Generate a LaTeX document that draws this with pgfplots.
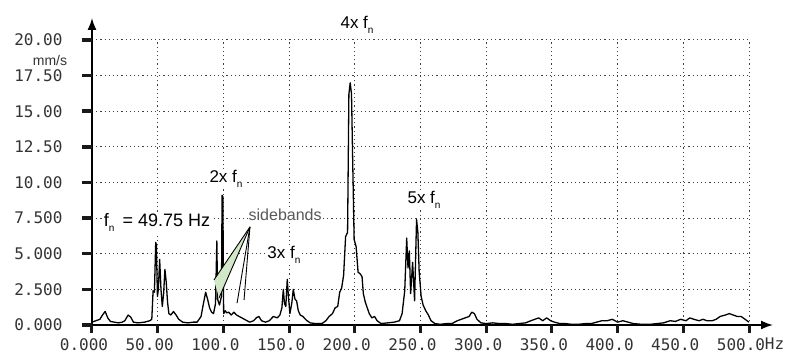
\documentclass[border=0pt]{standalone}
\usepackage{fontspec}
\setmainfont{Liberation Sans}
\newfontfamily\tickfont{DejaVu Sans Mono}
\usepackage{pgfplots}
\pgfplotsset{compat=1.18}
\usetikzlibrary{arrows.meta}
\definecolor{wedge}{RGB}{208,232,200}
\definecolor{tickcol}{RGB}{25,25,25}
\newcommand\sub[1]{\raisebox{-0.55ex}{\fontsize{10}{10}\selectfont #1}}
\begin{document}
\begin{tikzpicture}
\begin{axis}[
  scale only axis, width=657pt, height=285pt,
  xmin=0, xmax=500, ymin=0, ymax=20,
  enlargelimits=false,
  axis lines=left,
  axis line style={line width=1.6pt, black},
  x axis line style={-{Latex[length=12pt,width=9pt]}, shorten >=-24pt},
  y axis line style={-{Latex[length=12pt,width=9pt]}, shorten >=-22pt},
  xtick={0,50,...,500}, ytick={0,2.5,...,20},
  xticklabels={0.000,50.00,100.0,150.0,200.0,250.0,300.0,350.0,400.0,450.0,500.0},
  yticklabels={0.000,2.500,5.000,7.500,10.00,12.50,15.00,17.50,20.00},
  tick align=outside, major tick length=8pt,
  ticklabel style={font=\tickfont\fontsize{16}{16}\selectfont, text=black!80},
  xticklabel style={yshift=-2pt, xshift=-8pt},
  yticklabel style={xshift=-18pt},
  /pgf/number format/assume math mode=true,
  grid=major,
  major grid style={line width=1pt, black!75, dash pattern=on 1.2pt off 3pt},
  clip=false,
]
\addplot[black, line width=1.3pt, line join=round] coordinates {
(0,0.2) (3,0.3) (6,0.4) (8,0.7) (10,0.95) (12,0.5) (14,0.25) (17,0.2) (20,0.15)
(23,0.2) (25,0.3) (27.5,0.7) (29.5,0.55) (31.5,0.2) (35,0.15) (40,0.2) (44,0.3)
(45.5,0.4) (46.5,2.4) (47.5,2.3) (48.5,5.8) (49,5.6) (49.8,2.0) (50.5,2.5) (51.5,4.6)
(52.5,2.5) (53.5,1.3) (54.5,2.2) (55.5,3.9) (56.5,3.0) (57.5,1.6) (58.5,0.8) (60,0.7)
(62,0.95) (64,0.7) (66,0.4) (69,0.2) (73,0.15) (77,0.2) (80,0.2) (83,0.6) (85,1.6)
(86.5,2.3) (88,1.8) (89.5,1.2) (91,0.9) (92.5,0.8) (94,1.5) (95,5.9) (95.6,1.8) (97,1.4)
(98.5,2.0) (99,9.1) (99.6,9.0) (100.2,0.8) (101.5,1.0) (102.5,0.85) (104,0.9) (106,0.7)
(108,0.9) (110,0.7) (112,0.6) (114,0.5) (116,0.4) (118,0.3) (120,0.2) (123,0.3) (125,0.5)
(127,0.6) (129,0.3) (132,0.2) (135,0.3) (138,0.6) (141,0.5) (143,0.7) (144.5,1.2)
(145.6,2.5) (146.5,1.5) (147.5,1.3) (148.6,3.2) (149.5,2.0) (150.6,0.8) (152,1.5)
(153.2,2.5) (154.5,1.8) (155.7,1.7) (157,1.0) (158.5,0.7) (160.5,0.6) (163,0.35)
(166,0.15) (170,0.1) (175,0.1) (178,0.3) (180.5,0.6) (183,0.8) (185,1.2) (187,1.3)
(188.5,2.3) (190,2.6) (191.5,3.5) (193,6.2) (194.5,6.5) (195.5,16.2) (196.5,17.0)
(197.5,16.2) (198.5,11.0) (199.5,6.0) (201,5.5) (202.5,3.7) (204,3.6) (205.5,3.4)
(206.5,2.2) (208,1.6) (209.5,1.2) (211,0.8) (213,0.5) (215,0.6) (217,0.3) (220,0.1)
(225,0.15) (230,0.2) (234,0.3) (236,0.8) (238,2.4) (239.5,6.1) (240.5,4.0) (241.5,5.2)
(242.5,2.2) (244,4.4) (245.5,1.7) (247,7.4) (248,6.5) (249,3.7) (250.5,2.0) (252,1.4)
(254,1.0) (256,0.7) (258,0.3) (261,0.1) (265,0.05) (270,0.1) (274,0.1) (278,0.3)
(281,0.4) (284,0.5) (287,0.6) (289,0.9) (291,0.8) (293,0.4) (296,0.15) (300,0.1)
(305,0.15) (310,0.1) (315,0.1) (320,0.05) (325,0.1) (330,0.15) (334,0.3) (337,0.4)
(340,0.5) (343,0.3) (346,0.5) (349,0.3) (352,0.2) (356,0.1) (360,0.1) (365,0.05)
(370,0.05) (376,0.1) (380,0.1) (384,0.2) (388,0.3) (392,0.3) (396,0.4) (400,0.2)
(404,0.3) (408,0.2) (412,0.1) (418,0.05) (425,0.05) (430,0.1) (435,0.15) (440,0.3)
(444,0.25) (448,0.4) (452,0.3) (455,0.5) (458,0.4) (462,0.3) (465,0.4) (468,0.3)
(472,0.3) (475,0.4) (478,0.6) (482,0.7) (485,0.8) (488,0.7) (491,0.6) (494,0.6)
(497,0.4) (500,0.2)
};
% tick marks
\draw[tickcol, line width=3.5pt] (axis cs:0,0) -- (axis cs:-7.6,0);
\draw[tickcol, line width=3.5pt] (axis cs:0,2.5) -- (axis cs:-7.6,2.5);
\draw[tickcol, line width=3.5pt] (axis cs:0,5) -- (axis cs:-7.6,5);
\draw[tickcol, line width=3.5pt] (axis cs:0,7.5) -- (axis cs:-7.6,7.5);
\draw[tickcol, line width=3.5pt] (axis cs:0,10) -- (axis cs:-7.6,10);
\draw[tickcol, line width=3.5pt] (axis cs:0,12.5) -- (axis cs:-7.6,12.5);
\draw[tickcol, line width=3.5pt] (axis cs:0,15) -- (axis cs:-7.6,15);
\draw[tickcol, line width=3.5pt] (axis cs:0,17.5) -- (axis cs:-7.6,17.5);
\draw[tickcol, line width=3.5pt] (axis cs:0,20) -- (axis cs:-7.6,20);
\draw[tickcol, line width=3pt] (axis cs:0,0) -- (axis cs:0,-0.56);
\draw[tickcol, line width=3pt] (axis cs:50,0) -- (axis cs:50,-0.56);
\draw[tickcol, line width=3pt] (axis cs:100,0) -- (axis cs:100,-0.56);
\draw[tickcol, line width=3pt] (axis cs:150,0) -- (axis cs:150,-0.56);
\draw[tickcol, line width=3pt] (axis cs:200,0) -- (axis cs:200,-0.56);
\draw[tickcol, line width=3pt] (axis cs:250,0) -- (axis cs:250,-0.56);
\draw[tickcol, line width=3pt] (axis cs:300,0) -- (axis cs:300,-0.56);
\draw[tickcol, line width=3pt] (axis cs:350,0) -- (axis cs:350,-0.56);
\draw[tickcol, line width=3pt] (axis cs:400,0) -- (axis cs:400,-0.56);
\draw[tickcol, line width=3pt] (axis cs:450,0) -- (axis cs:450,-0.56);
\draw[tickcol, line width=3pt] (axis cs:500,0) -- (axis cs:500,-0.56);
% sideband pointers
\fill[wedge] (axis cs:120.2,6.88) -- (axis cs:92.8,3.16) -- (axis cs:96.7,1.9) -- cycle;
\draw[black, line width=0.9pt] (axis cs:120.2,6.88) -- (axis cs:92.8,3.16);
\draw[black, line width=0.9pt] (axis cs:120.2,6.88) -- (axis cs:96.7,1.9);
\draw[black, line width=0.9pt] (axis cs:120.2,6.88) -- (axis cs:110.4,1.54);
\draw[black, line width=0.9pt] (axis cs:120.2,6.88) -- (axis cs:115.7,1.75);
% annotations
\node[font=\fontsize{17}{17}\selectfont, fill=white, inner sep=1pt] at (axis cs:201.7,21.05) {4x f\sub{n}};
\node[font=\fontsize{17}{17}\selectfont, fill=white, inner sep=1pt] at (axis cs:102,10.25) {2x f\sub{n}};
\node[font=\fontsize{18}{18}\selectfont, fill=white, inner sep=1pt] at (axis cs:49.5,7.2) {f\sub{n}\, = 49.75 Hz};
\node[font=\fontsize{16}{16}\selectfont, text=black!65, fill=white, inner sep=1pt] at (axis cs:147,7.7) {sidebands};
\node[font=\fontsize{17}{17}\selectfont, fill=white, inner sep=1pt] at (axis cs:146,4.9) {3x f\sub{n}};
\node[font=\fontsize{17}{17}\selectfont, fill=white, inner sep=1pt] at (axis cs:252.7,8.8) {5x f\sub{n}};
\node[font=\tickfont\fontsize{16}{16}\selectfont, text=black!80, anchor=west, inner sep=0pt] at (axis cs:512,-1.3) {Hz};
\node[font=\fontsize{14}{14}\selectfont, text=black!80, inner sep=0pt] at (axis cs:-32,18.55) {mm/s};
\end{axis}
\pgfresetboundingbox
\path (-92pt,-31pt) rectangle (698pt,325pt);
\end{tikzpicture}
\end{document}
